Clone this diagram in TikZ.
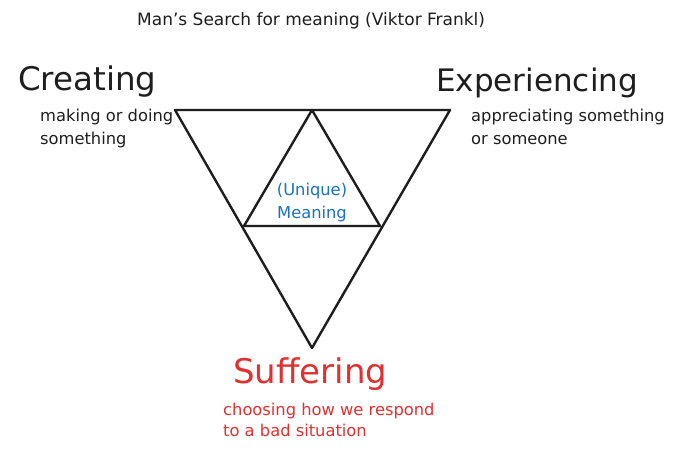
\documentclass[tikz,border=0pt]{standalone}
\usepackage{fontspec}
\setmainfont{DejaVu Sans}
\definecolor{ink}{HTML}{1E1E1E}
\definecolor{exblue}{HTML}{1971C2}
\definecolor{exred}{HTML}{E03131}
\begin{document}
\begin{tikzpicture}[x=1pt,y=-1pt,
  edge/.style={draw=ink,line width=2.4pt,line join=round,line cap=round},
  big/.style={inner sep=0pt,anchor=base west,text=ink,font=\fontsize{32.5}{38}\selectfont},
  small/.style={inner sep=0pt,anchor=base west,text=ink,align=left,font=\fontsize{16.3}{23}\selectfont}]
\useasboundingbox[fill=white] (0,0) rectangle (680,454);
% triangle corners
\coordinate (TL) at (175,110);
\coordinate (TR) at (450,110);
\coordinate (B) at (312,348);
\coordinate (A) at (312,110);
\coordinate (ML) at (244,226);
\coordinate (MR) at (380,226);
\draw[edge] (TL) -- (TR) -- (B) -- cycle;
\draw[edge] (A) -- (MR) -- (ML) -- cycle;
% texts
\node[small,font=\fontsize{17}{20}\selectfont] (title) at (137,26) {Man's Search for meaning (Viktor Frankl)};
\node[big] (creating) at (18,91) {Creating};
\node[small] (creatingtxt) at (40,145) {making or doing\\something};
\node[big,font=\fontsize{31}{36}\selectfont] (experiencing) at (436,92) {Experiencing};
\node[small] (exptxt) at (471,145) {appreciating something\\or someone};
\node[inner sep=0pt,text=exblue,align=center,font=\fontsize{16.3}{23}\selectfont] (meaning) at (312,203) {(Unique)\\Meaning};
\node[big,text=exred,font=\fontsize{34}{38}\selectfont] (suffering) at (233,383) {Suffering};
\node[small,text=exred,font=\fontsize{16.3}{21}\selectfont] (suftxt) at (223,436) {choosing how we respond\\to a bad situation};
\end{tikzpicture}
\end{document}
